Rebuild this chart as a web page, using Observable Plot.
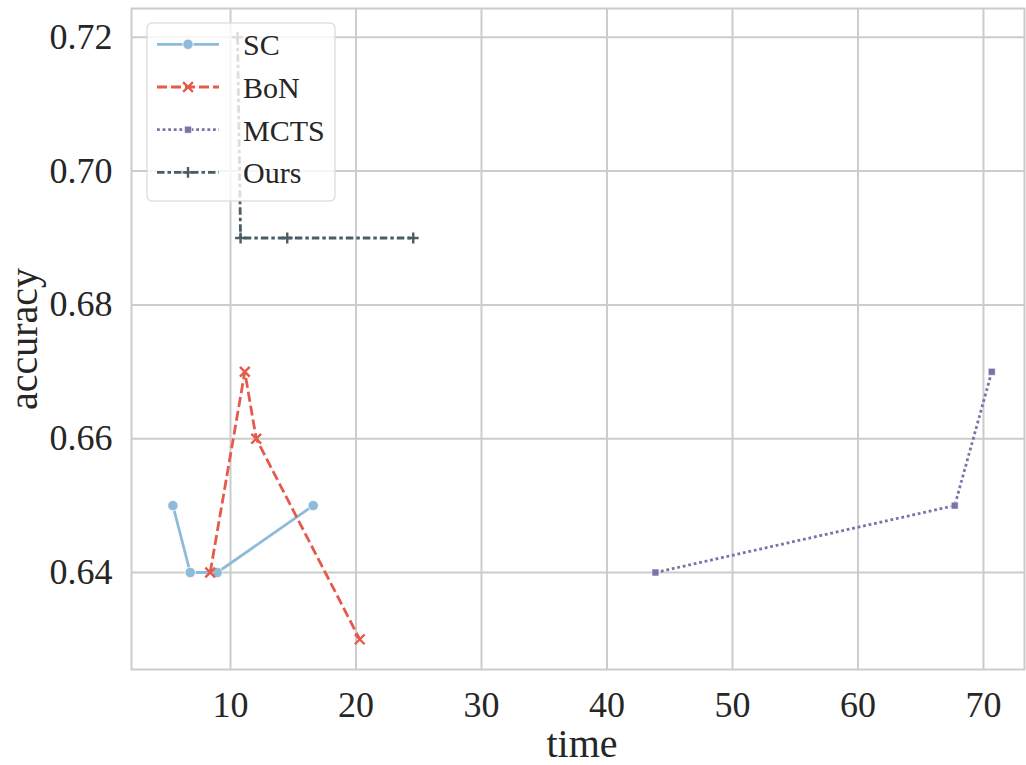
<!DOCTYPE html>
<html>
<head>
<meta charset="utf-8">
<script src="https://cdn.jsdelivr.net/npm/d3@7"></script>
<script src="https://cdn.jsdelivr.net/npm/@observablehq/plot@0.6"></script>
<style>
  html, body { margin: 0; padding: 0; background: #ffffff; }
  #wrap { position: relative; width: 1026px; height: 765px; }
  #wrap svg.overlay { position: absolute; left: 0; top: 0; pointer-events: none; }
</style>
</head>
<body>
<div id="wrap"></div>
<script>
// ---- data ----
const seriesNames = ["SC", "BoN", "MCTS", "Ours"];
const scTime = [5.41, 6.79, 8.94, 16.59];
const scAcc = [0.65, 0.64, 0.64, 0.65];
const bonTime = [8.38, 11.14, 12.05, 20.30];
const bonAcc = [0.64, 0.67, 0.66, 0.63];
const mctsTime = [43.86, 67.71, 70.66];
const mctsAcc = [0.64, 0.65, 0.67];
const oursTime = [10.56, 10.80, 14.52, 24.56];
const oursAcc = [0.72, 0.69, 0.69, 0.69];
const xTicks = [10, 20, 30, 40, 50, 60, 70];
const yTicks = [0.64, 0.66, 0.68, 0.70, 0.72];
const xLabel = "time";
const yLabel = "accuracy";

// ---- styles ----
const FONT = "'Liberation Serif', 'Times New Roman', Times, serif";
const colors = {SC: "#8dbbd9", BoN: "#e65a4c", MCTS: "#7a73a8", Ours: "#4a5d67"};
const dashes = {SC: null, BoN: "10,4", MCTS: "2.8,2.8", Ours: "7.5,3,3.5,3"};
const lw = 2.8;

const toRows = (name, xs, ys) => xs.map((t, i) => ({series: name, time: t, accuracy: ys[i]}));
const data = {
  SC: toRows("SC", scTime, scAcc),
  BoN: toRows("BoN", bonTime, bonAcc),
  MCTS: toRows("MCTS", mctsTime, mctsAcc),
  Ours: toRows("Ours", oursTime, oursAcc)
};

const lineMark = (name) => Plot.line(data[name], {
  x: "time", y: "accuracy", sort: "time",
  stroke: colors[name], strokeWidth: lw,
  strokeDasharray: dashes[name] || undefined,
  strokeLinecap: "butt", strokeLinejoin: "round"
});

const chart = Plot.plot({
  width: 1026,
  height: 765,
  marginLeft: 131,
  marginRight: 2,
  marginTop: 8,
  marginBottom: 96,
  style: {fontFamily: FONT, color: "#262626", background: "#ffffff", overflow: "visible"},
  x: {domain: [2.11, 73.27]},
  y: {domain: [0.6255, 0.7243]},
  marks: [
    Plot.gridX(xTicks, {stroke: "#cccccc", strokeOpacity: 1, strokeWidth: 2}),
    Plot.gridY(yTicks, {stroke: "#cccccc", strokeOpacity: 1, strokeWidth: 2}),
    Plot.frame({stroke: "#cccccc", strokeWidth: 2}),
    Plot.axisX(xTicks, {tickSize: 0, tickPadding: 22, fontSize: 36, label: null}),
    Plot.axisY(yTicks, {tickSize: 0, tickPadding: 19, fontSize: 36, tickFormat: d3.format(".2f"), label: null}),
    Plot.text([xLabel], {text: d => d, frameAnchor: "bottom", textAnchor: "middle", lineAnchor: "bottom", dx: 4, dy: 87, fontSize: 40, fill: "#262626"}),
    Plot.text([yLabel], {text: d => d, frameAnchor: "left", textAnchor: "middle", lineAnchor: "bottom", rotate: -90, dx: -95, fontSize: 40, fill: "#262626"}),
    lineMark("SC"),
    Plot.dot(data.SC, {x: "time", y: "accuracy", symbol: "circle", r: 5.2, fill: colors.SC, stroke: "#ffffff", strokeWidth: 0.8}),
    lineMark("BoN"),
    Plot.dot(data.BoN, {x: "time", y: "accuracy", symbol: "times", r: 4.5, fill: "none", stroke: colors.BoN, strokeWidth: 2.4}),
    lineMark("MCTS"),
    Plot.dot(data.MCTS, {x: "time", y: "accuracy", symbol: "square", r: 3.95, fill: colors.MCTS, stroke: "#ffffff", strokeWidth: 0.6}),
    lineMark("Ours"),
    Plot.dot(data.Ours, {x: "time", y: "accuracy", symbol: "plus", r: 3.6, fill: "none", stroke: colors.Ours, strokeWidth: 2.4})
  ]
});

const wrap = document.getElementById("wrap");
wrap.appendChild(chart);

// ---- legend overlay ----
const ov = d3.create("svg")
  .attr("class", "overlay")
  .attr("width", 1026).attr("height", 765)
  .attr("viewBox", "0 0 1026 765");
ov.append("rect")
  .attr("x", 147).attr("y", 23).attr("width", 188).attr("height", 178)
  .attr("rx", 5).attr("ry", 5)
  .attr("fill", "#ffffff").attr("fill-opacity", 0.8)
  .attr("stroke", "#d8d8d8").attr("stroke-opacity", 0.8).attr("stroke-width", 1.5);

const symbolFor = {
  SC: {type: d3.symbolCircle, size: Math.PI * 5.2 * 5.2, fill: true, sw: 0.8},
  BoN: {type: d3.symbolTimes, size: Math.PI * 4.5 * 4.5, fill: false, sw: 2.4},
  MCTS: {type: d3.symbolSquare, size: Math.PI * 3.95 * 3.95, fill: true, sw: 0.6},
  Ours: {type: d3.symbolPlus, size: Math.PI * 3.6 * 3.6, fill: false, sw: 2.4}
};

seriesNames.forEach((name, i) => {
  const cy = 44.3 + i * 42.7;
  const g = ov.append("g");
  const ln = g.append("line")
    .attr("x1", 157).attr("x2", 219).attr("y1", cy).attr("y2", cy)
    .attr("stroke", colors[name]).attr("stroke-width", lw);
  if (dashes[name]) ln.attr("stroke-dasharray", dashes[name]);
  const s = symbolFor[name];
  g.append("path")
    .attr("d", d3.symbol(s.type, s.size)())
    .attr("transform", `translate(188,${cy})`)
    .attr("fill", s.fill ? colors[name] : "none")
    .attr("stroke", s.fill ? "#ffffff" : colors[name])
    .attr("stroke-width", s.sw);
  g.append("text")
    .attr("x", 243).attr("y", cy + 11)
    .attr("font-family", FONT)
    .attr("font-size", 30)
    .attr("fill", "#262626")
    .text(name);
});
wrap.appendChild(ov.node());
</script>
</body>
</html>
